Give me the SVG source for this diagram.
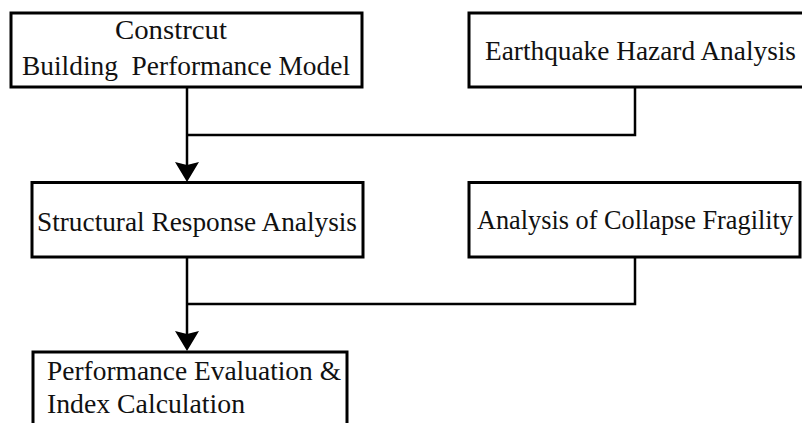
<svg xmlns="http://www.w3.org/2000/svg" width="802" height="423" viewBox="0 0 802 423">
  <style>
    .box { fill: #ffffff; stroke: #000000; stroke-width: 3; }
    .lbl { font-family: "Liberation Serif", "Times New Roman", serif; font-size: 28px; fill: #111111; }
    .wire { fill: none; stroke: #000000; stroke-width: 2.5; }
  </style>
  <defs>
    <marker id="arrow" markerUnits="userSpaceOnUse" markerWidth="20" markerHeight="24" viewBox="0 0 20 24" refX="15" refY="12" orient="auto">
      <path d="M0,0 L20,12 L0,24 L3,12 Z" fill="#000000"/>
    </marker>
  </defs>

  <rect width="802" height="423" fill="#ffffff"/>

  <!-- connectors -->
  <g id="connectors">
    <path class="wire" d="M187,87 V177" marker-end="url(#arrow)"/>
    <path class="wire" d="M635,87 V135 H187"/>
    <path class="wire" d="M187,257 V346" marker-end="url(#arrow)"/>
    <path class="wire" d="M635,257 V304 H187"/>
  </g>

  <!-- nodes -->
  <g id="node-model">
    <rect class="box" x="11" y="13" width="351" height="74"/>
    <text class="lbl" x="115" y="39" textLength="112" lengthAdjust="spacingAndGlyphs">Constrcut</text>
    <text class="lbl" x="22" y="75" textLength="328" lengthAdjust="spacingAndGlyphs" xml:space="preserve">Building  Performance Model</text>
  </g>

  <g id="node-hazard">
    <rect class="box" x="469" y="13" width="345" height="74"/>
    <text class="lbl" x="485" y="60" textLength="311" lengthAdjust="spacingAndGlyphs">Earthquake Hazard Analysis</text>
  </g>

  <g id="node-response">
    <rect class="box" x="32" y="182.5" width="331" height="74.5"/>
    <text class="lbl" x="37" y="231" textLength="320" lengthAdjust="spacingAndGlyphs">Structural Response Analysis</text>
  </g>

  <g id="node-fragility">
    <rect class="box" x="469" y="182.5" width="331" height="74.5"/>
    <text class="lbl" x="477" y="229" textLength="316" lengthAdjust="spacingAndGlyphs">Analysis of Collapse Fragility</text>
  </g>

  <g id="node-evaluation">
    <rect class="box" x="33" y="352" width="314" height="100"/>
    <text class="lbl" x="47" y="380" textLength="294" lengthAdjust="spacingAndGlyphs">Performance Evaluation &amp;</text>
    <text class="lbl" x="47" y="413" textLength="198" lengthAdjust="spacingAndGlyphs">Index Calculation</text>
  </g>
</svg>
